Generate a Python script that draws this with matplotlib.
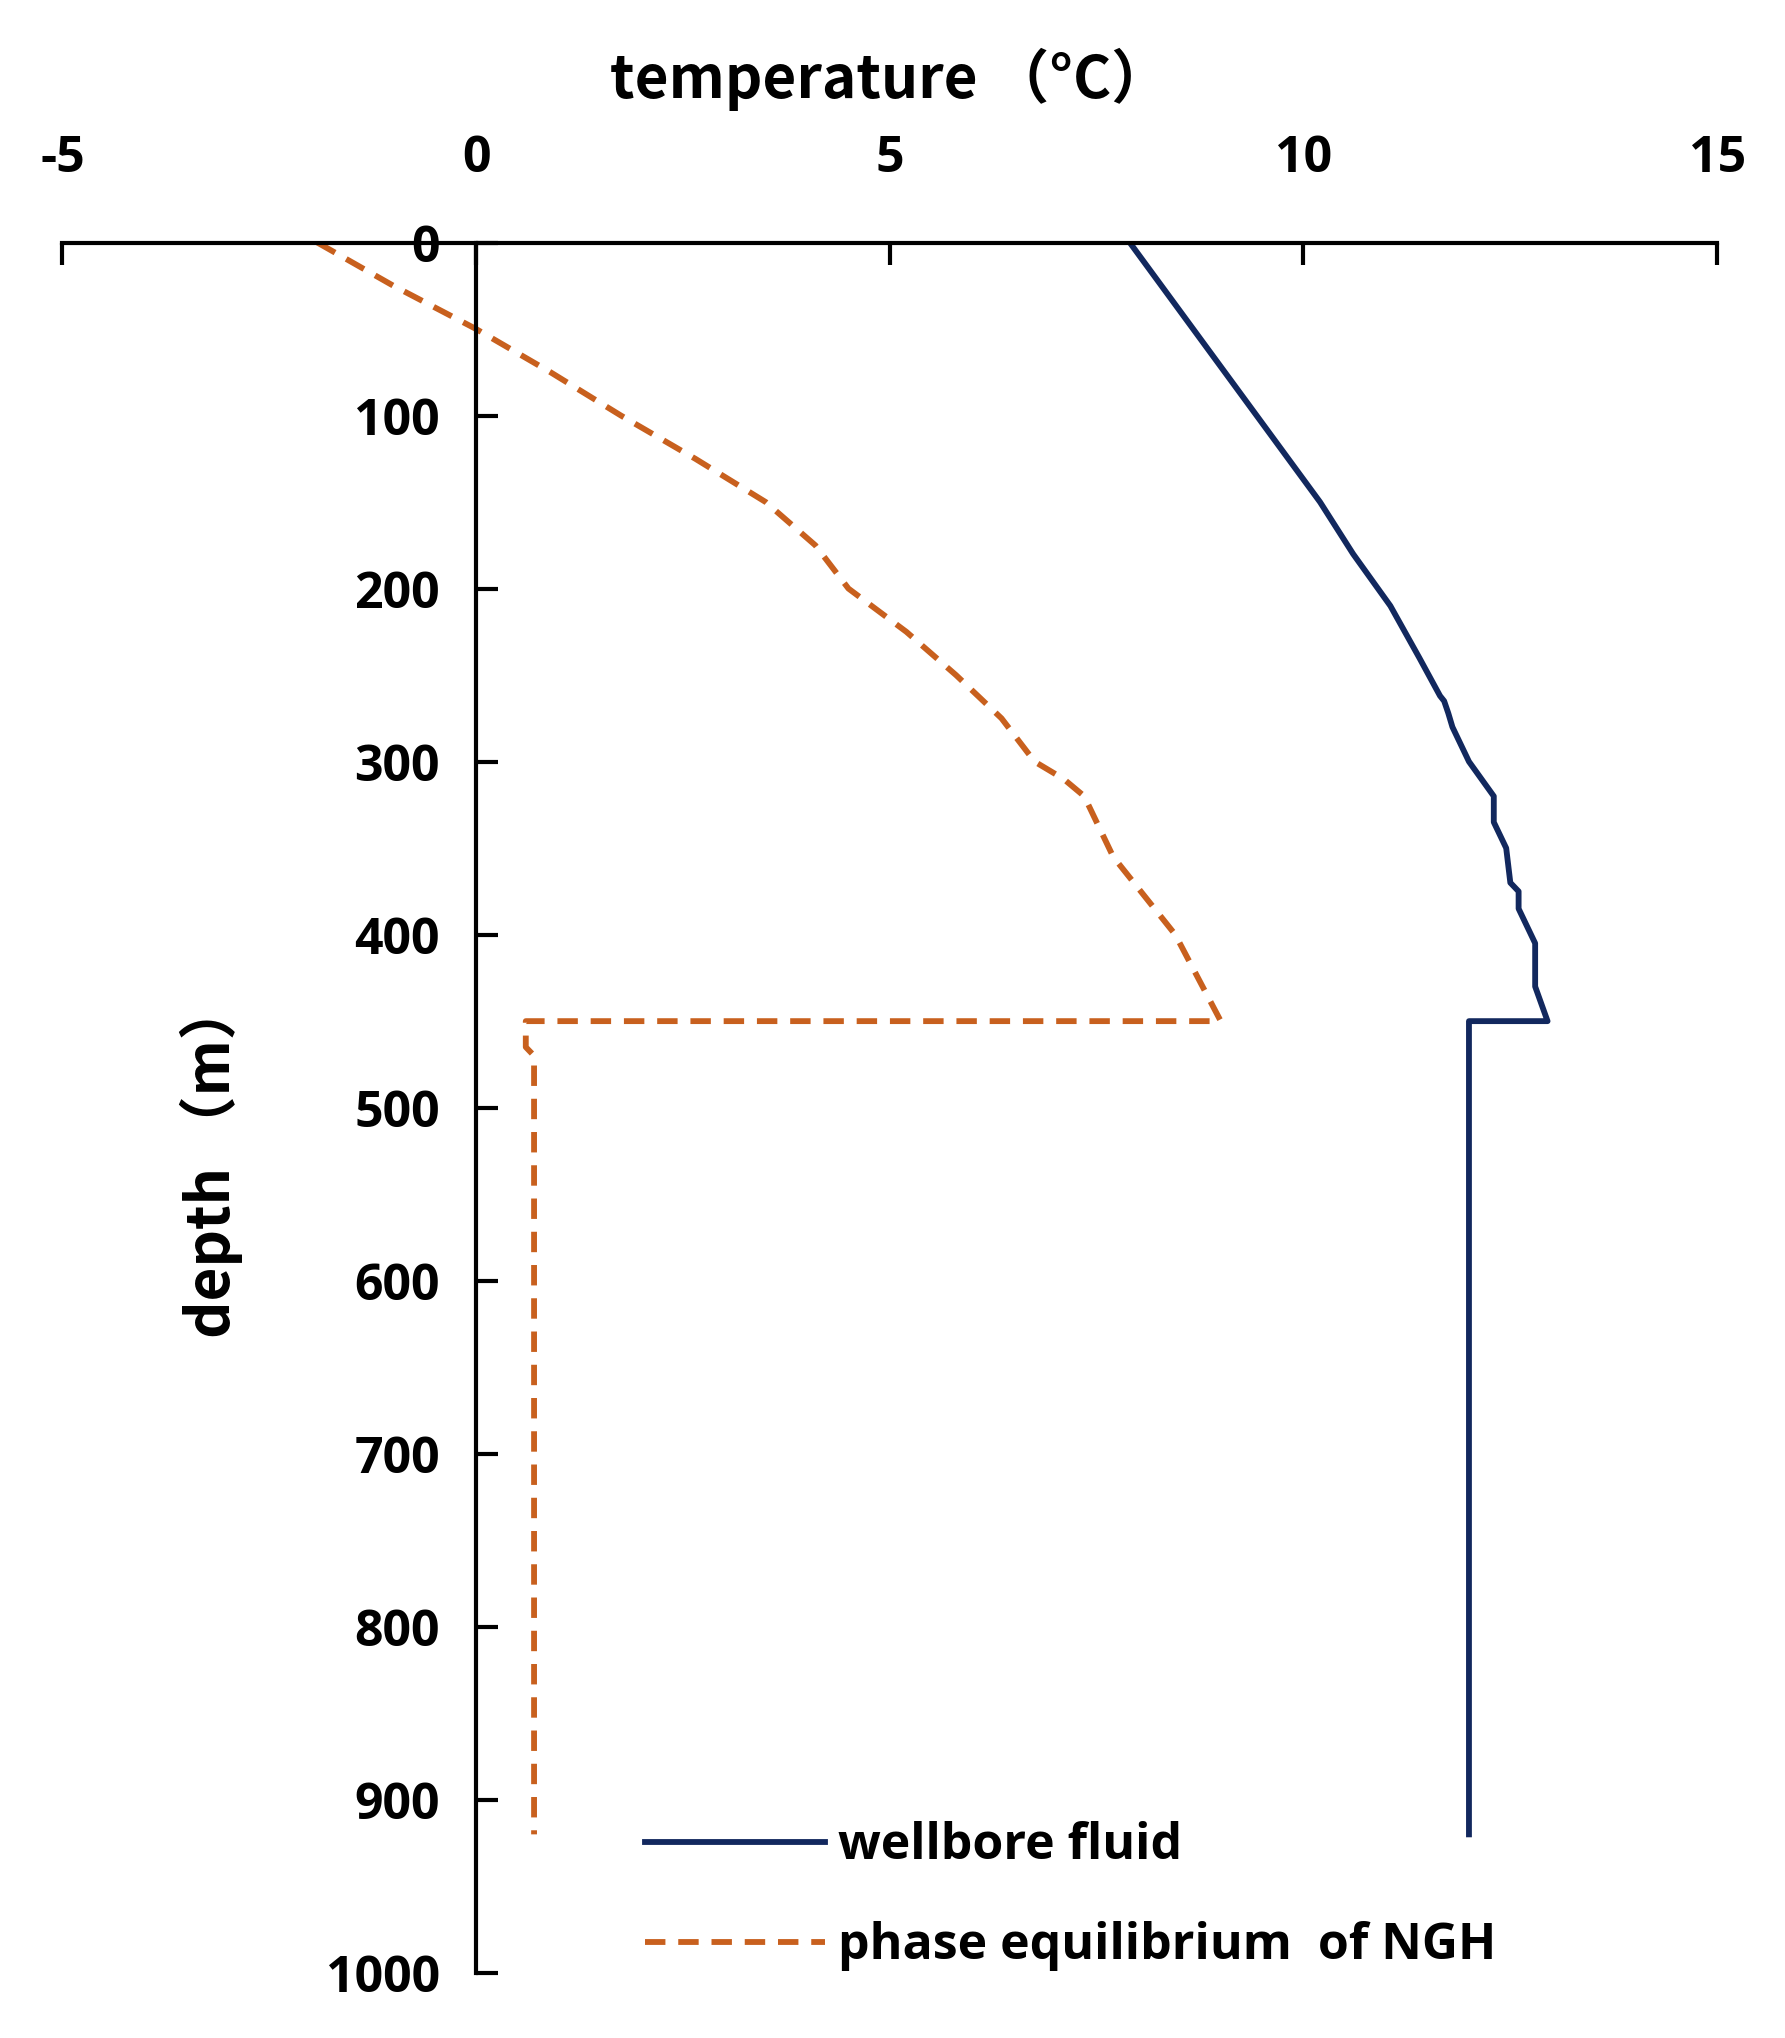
import matplotlib
matplotlib.use("Agg")
import matplotlib.pyplot as plt

well_T = [7.9, 10.2, 10.6, 11.05, 11.4, 11.65, 11.7, 11.75, 11.8, 12.0, 12.3, 12.3, 12.45, 12.5, 12.6, 12.6, 12.8, 12.8, 12.95, 12.0, 12.0]
well_D = [0, 150, 180, 210, 240, 262, 265, 272, 280, 300, 320, 335, 350, 370, 375, 385, 405, 430, 450, 450, 920]
phase_T = [-1.92, -1.0, 0.0, 0.9, 1.75, 2.65, 3.5, 4.1, 4.5, 5.2, 5.8, 6.35, 6.75, 7.1, 7.35, 7.7, 8.2, 8.45, 9.0, 0.6, 0.6, 0.7, 0.7]
phase_D = [0, 25, 50, 75, 100, 125, 150, 175, 200, 225, 250, 275, 300, 310, 320, 355, 385, 400, 450, 450, 465, 470, 920]

plt.rcParams['font.family'] = ['Open Sans', 'DejaVu Sans']
plt.rcParams['font.weight'] = 'bold'
plt.rcParams['axes.unicode_minus'] = False
fig = plt.figure(figsize=(17.85, 20.38), dpi=100)
ax = fig.add_axes([0.035, 0.032, 0.927, 0.849])
ax.plot(well_T, well_D, color='#12285e', lw=4.2, label='wellbore fluid')
ax.plot(phase_T, phase_D, color='#c8601e', lw=4.2, ls=(0, (3.5, 2.2)), label='phase equilibrium  of NGH')
ax.set_xlim(-5, 15)
ax.set_ylim(1000, 0)
ax.set_xticks([-5, 0, 5, 10, 15])
ax.set_yticks(range(0, 1001, 100))
ax.xaxis.tick_top()
ax.xaxis.set_label_position('top')
ax.spines['bottom'].set_visible(False)
ax.spines['right'].set_visible(False)
ax.spines['left'].set_position(('data', 0))
for s in ['left', 'top']:
    ax.spines[s].set_linewidth(3)
ax.tick_params(axis='x', direction='in', length=16, width=3, labelsize=36, pad=42)
ax.tick_params(axis='y', direction='in', length=16, width=3, labelsize=36, pad=26)
for t in ax.get_xticklabels() + ax.get_yticklabels():
    t.set_fontweight('bold')
ax.set_xlabel('temperature （°C）', fontsize=42, fontweight='bold', labelpad=26,
              family=['Noto Sans CJK SC', 'DejaVu Sans'])
ax.text(-3.2, 530, 'depth （m）', rotation=90, fontsize=42, fontweight='bold',
        ha='center', va='center', family=['Noto Sans CJK SC', 'DejaVu Sans'])
leg = ax.legend(loc='lower left', bbox_to_anchor=(0.325, -0.025), frameon=False,
                prop={'size': 36, 'weight': 'bold'}, handlelength=3.6, handletextpad=0.25,
                labelspacing=1.0)
fig.savefig('out.png', dpi=100, facecolor='white')
